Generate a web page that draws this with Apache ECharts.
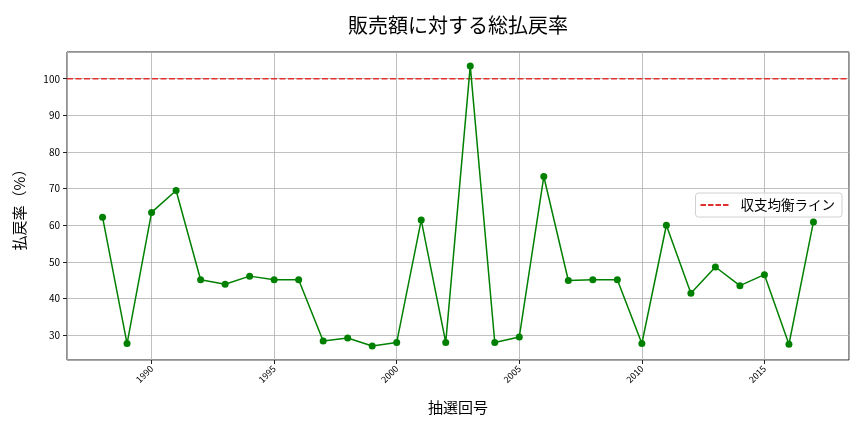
<!DOCTYPE html>
<html>
<head>
<meta charset="utf-8">
<script src="https://cdn.jsdelivr.net/npm/echarts@6/dist/echarts.min.js"></script>
<style>
html, body { margin: 0; padding: 0; background: #fff; }
#container { width: 864px; height: 432px; }
</style>
</head>
<body>
<div id="container"></div>
<script>
var years = [1988, 1989, 1990, 1991, 1992, 1993, 1994, 1995, 1996, 1997,
             1998, 1999, 2000, 2001, 2002, 2003, 2004, 2005, 2006, 2007,
             2008, 2009, 2010, 2011, 2012, 2013, 2014, 2015, 2016, 2017];
var payoutRate = [62.2, 27.7, 63.5, 69.5, 45.1, 43.9, 46.1, 45.1, 45.1, 28.4,
                  29.2, 27.0, 28.0, 61.4, 28.0, 103.5, 28.0, 29.5, 73.3, 44.9,
                  45.1, 45.1, 27.7, 60.0, 41.4, 48.6, 43.5, 46.5, 27.5, 60.9];
var breakEven = 100;
var xMin = 1986.55, xMax = 2018.45;
var yMin = 23.2, yMax = 107.3;

var font = '"Noto Sans CJK JP", "DejaVu Sans", sans-serif';
var dashIcon = 'path://M0,0H5.5V2H0Z M7.5,0H13V2H7.5Z M15,0H20.5V2H15Z M22.5,0H28V2H22.5Z';

var dom = document.getElementById("container");
var myChart = echarts.init(dom);

var rateData = years.map(function (y, i) { return [y, payoutRate[i]]; });

var option = {
    animation: false,
    title: {
        text: '販売額に対する総払戻率',
        left: 343,
        top: 10,
        textStyle: { fontFamily: font, fontSize: 20, fontWeight: 'normal', color: '#000' }
    },
    legend: {
        right: 22,
        top: 193,
        orient: 'vertical',
        data: [{ name: '収支均衡ライン', icon: dashIcon }],
        itemWidth: 28,
        itemHeight: 2,
        itemGap: 0,
        padding: [5, 7, 5, 5],
        borderColor: '#d0d0d0',
        borderWidth: 1,
        borderRadius: 3,
        backgroundColor: 'rgba(255,255,255,0.8)',
        textStyle: { fontFamily: font, fontSize: 13.5, color: '#000', lineHeight: 14, padding: [0, 0, 0, 7] }
    },
    grid: {
        left: 67, right: 15, top: 52, bottom: 72,
        show: true,
        borderColor: '#222',
        borderWidth: 1
    },
    xAxis: {
        type: 'value',
        min: xMin,
        max: xMax,
        splitNumber: 6,
        name: '抽選回号',
        nameLocation: 'middle',
        nameGap: 40,
        nameTextStyle: { fontFamily: font, fontSize: 15, color: '#000' },
        axisLine: { show: false },
        axisTick: { show: true, length: 4, lineStyle: { color: '#222' } },
        axisLabel: {
            rotate: 45,
            fontSize: 9,
            color: '#000',
            fontFamily: font,
            showMinLabel: false,
            showMaxLabel: false,
            margin: 7,
            formatter: function (v) { return String(Math.round(v)); }
        },
        splitLine: { show: true, lineStyle: { color: '#b0b0b0', width: 0.8 } }
    },
    yAxis: {
        type: 'value',
        min: yMin,
        max: yMax,
        splitNumber: 8,
        name: '払戻率（%）',
        nameLocation: 'middle',
        nameGap: 40,
        nameTextStyle: { fontFamily: font, fontSize: 15, color: '#000' },
        axisLine: { show: false },
        axisTick: { show: true, length: 4, lineStyle: { color: '#222' } },
        axisLabel: {
            fontSize: 10,
            color: '#000',
            fontFamily: font,
            showMinLabel: false,
            showMaxLabel: false,
            margin: 7
        },
        splitLine: { show: true, lineStyle: { color: '#b0b0b0', width: 0.8 } }
    },
    series: [
        {
            name: '払戻率',
            type: 'line',
            data: rateData,
            symbol: 'circle',
            symbolSize: 7,
            itemStyle: { color: '#008000' },
            lineStyle: { color: '#008000', width: 1.5 },
            z: 3
        },
        {
            name: '収支均衡ライン',
            type: 'line',
            data: [[xMin, breakEven], [xMax, breakEven]],
            symbol: 'none',
            itemStyle: { color: '#e03030' },
            lineStyle: { color: '#e03030', width: 1.5, type: [6, 2.5] },
            z: 2
        }
    ]
};

if (option && typeof option === "object") {
    myChart.setOption(option, true);
}
</script>
</body>
</html>
